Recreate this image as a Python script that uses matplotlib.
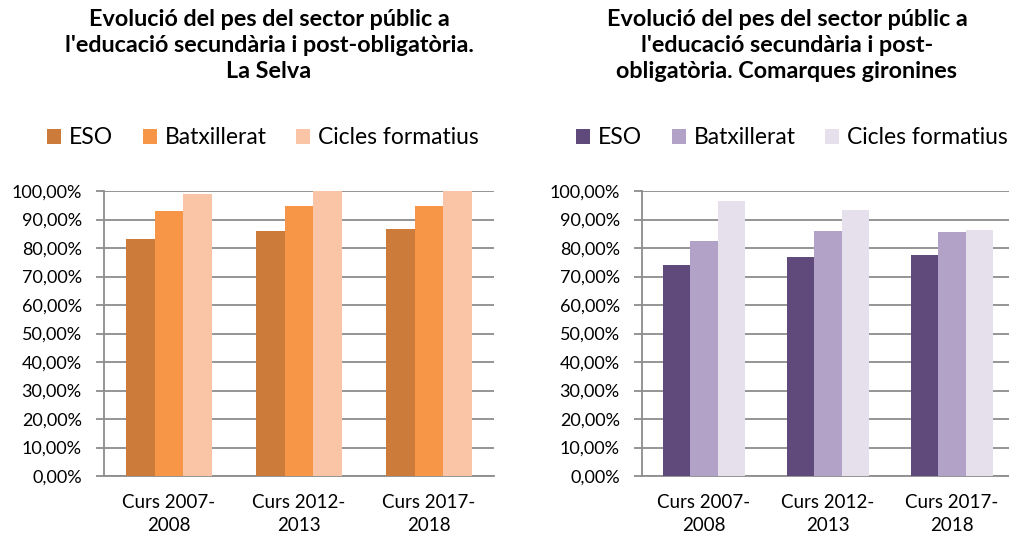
import numpy as np
import matplotlib.pyplot as plt
from matplotlib.ticker import FuncFormatter

plt.rcParams['font.family'] = ['Lato', 'DejaVu Sans']

cursos = ["Curs 2007-\n2008", "Curs 2012-\n2013", "Curs 2017-\n2018"]
series = ["ESO", "Batxillerat", "Cicles formatius"]

selva_eso = [0.833, 0.859, 0.866]
selva_batx = [0.929, 0.949, 0.949]
selva_cicles = [0.988, 1.000, 1.000]

girona_eso = [0.741, 0.770, 0.777]
girona_batx = [0.825, 0.859, 0.856]
girona_cicles = [0.964, 0.935, 0.862]

titol_selva = ("Evolució del pes del sector públic a\n"
               "l'educació secundària i post-obligatòria.\nLa Selva")
titol_girona = ("Evolució del pes del sector públic a\n"
                "l'educació secundària i post-\nobligatòria. Comarques gironines")

colors_selva = ["#CC7B3A", "#F79646", "#FAC4A7"]
colors_girona = ["#604A7B", "#B2A2C7", "#E5E0EC"]

W, H = 1009, 541
fig = plt.figure(figsize=(W / 100, H / 100), dpi=100)


def pct(v, pos):
    return ("%.2f" % (v * 100)).replace(".", ",") + "%"


def draw(rect, vals, colors, title, title_x, leg_x, bw):
    ax = fig.add_axes([rect[0] / W, 1 - rect[3] / H, (rect[1] - rect[0]) / W, (rect[3] - rect[2]) / H])
    x = np.arange(len(cursos))
    for i, (v, c) in enumerate(zip(vals, colors)):
        ax.bar(x + (i - 1) * bw, v, bw, color=c, label=series[i], zorder=3)
    ax.set_xlim(-0.5, 2.5)
    ax.set_ylim(0, 1.0)
    ax.set_yticks(np.arange(0, 1.01, 0.1))
    ax.yaxis.set_major_formatter(FuncFormatter(pct))
    ax.grid(axis="y", color="#8C8C8C", linewidth=1.3, zorder=0)
    ax.set_xticks(x)
    ax.set_xticklabels(cursos, fontsize=13.5, linespacing=1.45)
    ax.tick_params(axis="x", length=0, pad=13)
    ax.tick_params(axis="y", length=6, color="#8C8C8C", width=1.3, labelsize=13, pad=10)
    for s in ["top", "right"]:
        ax.spines[s].set_visible(False)
    ax.spines["left"].set_color("#8C8C8C")
    ax.spines["left"].set_linewidth(1.3)
    ax.spines["bottom"].set_color("#8C8C8C")
    ax.spines["bottom"].set_linewidth(1.3)
    fig.text(title_x / W, 1 - 9 / H, title, ha="center", va="top", fontsize=16.8,
             fontweight="bold", linespacing=1.28)
    fig.legend(*ax.get_legend_handles_labels(), loc="center", bbox_to_anchor=(leg_x / W, 1 - 138 / H),
               ncol=3, frameon=False, fontsize=16.5, handlelength=0.6, handleheight=0.6,
               handletextpad=0.35, columnspacing=1.3, borderaxespad=0)
    return ax


draw((104, 494, 191, 476), [selva_eso, selva_batx, selva_cicles], colors_selva,
     titol_selva, 269, 263, 0.222)
draw((642, 1014, 191, 476), [girona_eso, girona_batx, girona_cicles], colors_girona,
     titol_girona, 787, 792, 0.22)

fig.savefig("out.png", dpi=100)
